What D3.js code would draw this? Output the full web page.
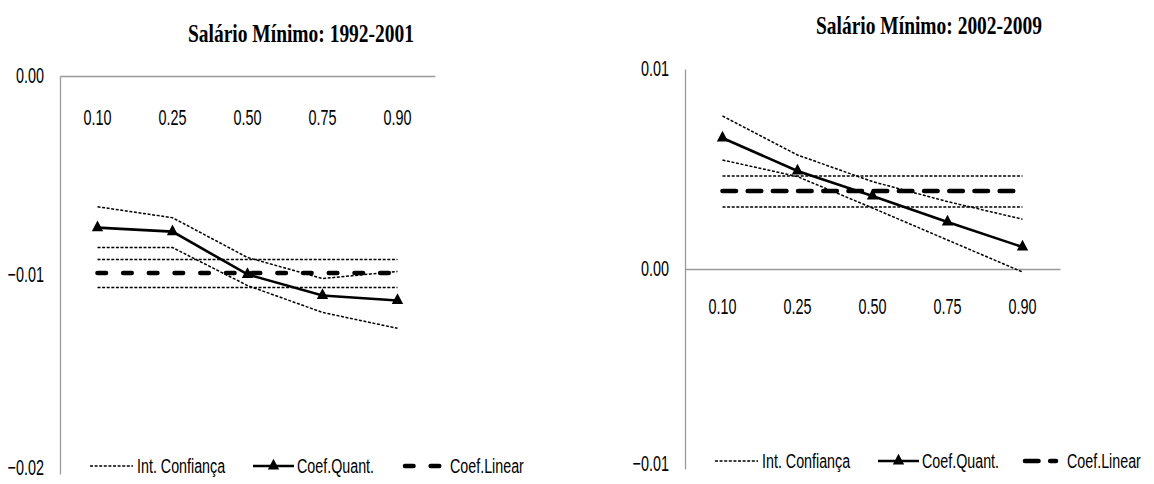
<!DOCTYPE html>
<meta charset="utf-8">
<script src="https://d3js.org/d3.v7.min.js"></script>
<style>
  body { margin: 0; background: #fff; }
  text { font-family: "Liberation Sans", Arial, sans-serif; fill: #000; }
  .title { font-family: "Liberation Serif", "Times New Roman", serif; font-weight: bold; }
</style>
<body>
<div id="my_dataviz"></div>
<script>
// quantis (categorias do eixo x)
var quantis = ["0.10", "0.25", "0.50", "0.75", "0.90"];

// Salário Mínimo 1992-2001
var quant9201  = [-0.00762, -0.00782, -0.00997, -0.01103, -0.01128];
var ciSup9201  = [-0.00657, -0.00712, -0.00912, -0.01018, -0.00982];
var ciInf9201  = [-0.00862, -0.00862, -0.01053, -0.01188, -0.01268];
var lin9201    = -0.00990;
var linSup9201 = -0.00922;
var linInf9201 = -0.01063;
var yTicks9201 = [0, -0.01, -0.02];

// Salário Mínimo 2002-2009
var quant0209  = [0.00655, 0.00490, 0.00365, 0.00235, 0.00110];
var ciSup0209  = [0.00765, 0.00570, 0.00437, 0.00337, 0.00249];
var ciInf0209  = [0.00545, 0.00462, 0.00305, 0.00145, -0.00015];
var lin0209    = 0.00390;
var linSup0209 = 0.00465;
var linInf0209 = 0.00310;
var yTicks0209 = [0.01, 0, -0.01];

var legendas = ["Int. Confiança", "Coef.Quant.", "Coef.Linear"];

var svg = d3.select("#my_dataviz")
  .append("svg")
    .attr("width", 1154)
    .attr("height", 484);

function painel(c) {
  var g = svg.append("g");

  var x = d3.scaleBand().domain(quantis).range([c.left, c.left + 375]);
  var y = d3.scaleLinear().domain(c.yDomain).range([c.top, c.bottom]);
  var px = function(i) { return x(quantis[i]) + x.bandwidth() / 2; };

  // titulo
  g.append("text").attr("class", "title")
    .attr("transform", "translate(" + c.titleX + "," + c.titleY + ") scale(1,1.3)")
    .attr("text-anchor", "middle").attr("dy", "0.35em")
    .style("font-size", "19.5px")
    .attr("textLength", 226).attr("lengthAdjust", "spacingAndGlyphs")
    .text(c.title);

  // eixo y
  var ay = g.append("g")
    .attr("transform", "translate(" + c.left + ",0)")
    .call(d3.axisLeft(y).tickValues(c.yTicks).tickSize(0).tickPadding(16)
      .tickFormat(d3.format(".2f")));
  ay.select(".domain").attr("stroke", "#9a9a9a").attr("stroke-width", 1.3);
  ay.selectAll("text")
    .style("font-size", "14.4px")
    .attr("transform", function(d) {
      var shift = Math.min(0, c.labelMax - y(d));
      return "translate(0," + shift + ") scale(1,1.5)";
    });

  // eixo x (no zero)
  var ax = g.append("g")
    .attr("transform", "translate(0," + y(0) + ")")
    .call(d3.axisBottom(x).tickSize(0));
  ax.select(".domain").attr("stroke", "#9a9a9a").attr("stroke-width", 1.3);
  ax.selectAll("text")
    .style("font-size", "14.4px")
    .attr("y", 0).attr("dy", "0.32em")
    .attr("transform", "translate(0," + c.catOffset + ") scale(1,1.5)");

  var linha = d3.line()
    .x(function(d, i) { return px(i); })
    .y(function(d) { return y(d); });

  var dotted = "3,1.6";

  // intervalos de confiança
  [c.ciSup, c.ciInf,
   quantis.map(function() { return c.linSup; }),
   quantis.map(function() { return c.linInf; })].forEach(function(s) {
    g.append("path").datum(s)
      .attr("d", linha)
      .attr("fill", "none").attr("stroke", "#000")
      .attr("stroke-width", 1.5).attr("stroke-dasharray", dotted);
  });

  // coef linear
  g.append("path").datum(quantis.map(function() { return c.lin; }))
    .attr("d", linha)
    .attr("fill", "none").attr("stroke", "#000")
    .attr("stroke-width", 4.6).attr("stroke-linecap", "round")
    .attr("stroke-dasharray", c.linDash);

  // coef quantilico
  g.append("path").datum(c.quant)
    .attr("d", linha)
    .attr("fill", "none").attr("stroke", "#000").attr("stroke-width", 2.6);
  g.selectAll(".tri").data(c.quant).enter().append("path")
    .attr("d", d3.symbol().type(d3.symbolTriangle).size(56))
    .attr("transform", function(d, i) { return "translate(" + px(i) + "," + y(d) + ") scale(1,1.1)"; })
    .attr("fill", "#000");

  // legenda
  var ly = c.legendY, L = c.left;
  g.append("line").attr("x1", L + 30).attr("x2", L + 73).attr("y1", ly).attr("y2", ly)
    .attr("stroke", "#000").attr("stroke-width", 1.5).attr("stroke-dasharray", dotted);
  g.append("line").attr("x1", L + 193).attr("x2", L + 234).attr("y1", ly).attr("y2", ly)
    .attr("stroke", "#000").attr("stroke-width", 2.6);
  g.append("path").attr("d", d3.symbol().type(d3.symbolTriangle).size(56))
    .attr("transform", "translate(" + (L + 213.5) + "," + ly + ") scale(1,1.1)");
  g.append("line").attr("x1", L + c.legLin[0]).attr("x2", L + c.legLin[1]).attr("y1", ly).attr("y2", ly)
    .attr("stroke", "#000").attr("stroke-width", 4.6).attr("stroke-linecap", "round")
    .attr("stroke-dasharray", c.linDash);

  var tx = [L + 77, L + 237, L + c.legLin[2]];
  legendas.forEach(function(t, i) {
    g.append("text")
      .attr("transform", "translate(" + tx[i] + "," + ly + ") scale(1,1.35)")
      .attr("dy", "0.35em")
      .style("font-size", "14.3px")
      .text(t);
  });
}

painel({
  left: 60, top: 76, bottom: 474, yDomain: [0, -0.02], yTicks: yTicks9201,
  title: "Salário Mínimo: 1992-2001", titleX: 301, titleY: 33,
  quant: quant9201, ciSup: ciSup9201, ciInf: ciInf9201,
  lin: lin9201, linSup: linSup9201, linInf: linInf9201,
  catOffset: 42, labelMax: 468, legendY: 466,
  linDash: "8.5,17.2", legLin: [345, 381, 390]
});

painel({
  left: 685, top: 69, bottom: 469, yDomain: [0.01, -0.01], yTicks: yTicks0209,
  title: "Salário Mínimo: 2002-2009", titleX: 929, titleY: 25,
  quant: quant0209, ciSup: ciSup0209, ciInf: ciInf0209,
  lin: lin0209, linSup: linSup0209, linInf: linInf0209,
  catOffset: 38, labelMax: 464, legendY: 461,
  linDash: "13.5,11.7", legLin: [340, 371, 382]
});
</script>
